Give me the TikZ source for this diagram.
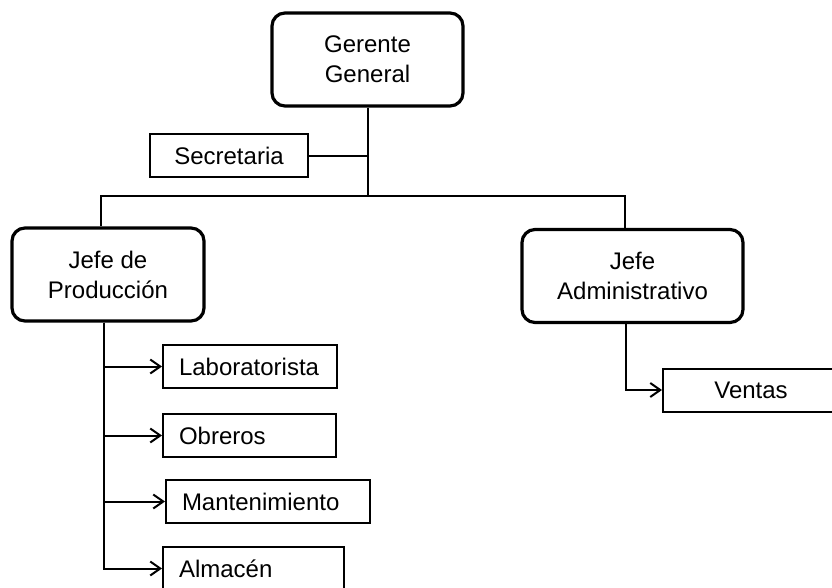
\documentclass[tikz,border=0pt]{standalone}
\usepackage{fontspec}
\setmainfont{Liberation Sans}
\usepackage{tikz}
\usetikzlibrary{arrows.meta}
\tikzset{
  jefe/.style={draw,rounded corners=13pt,line width=3.2pt,align=center,minimum width=#1,minimum height=93pt},
  cargo/.style={draw,line width=2pt,minimum width=#1,minimum height=43pt},
  cargoizq/.style={draw,line width=2pt,minimum height=43pt,inner xsep=16pt,text width=#1,align=left},
  linea/.style={line width=2pt},
}

\begin{document}
\begin{tikzpicture}[x=1pt,y=-1pt,font=\fontsize{24}{30}\selectfont,>={Straight Barb[length=10pt,width=14pt]}]
  \useasboundingbox (0,0) rectangle (832,588);
  \clip (0,0) rectangle (832,588);

  \node[jefe=191pt] at (367.5,59.5) (gg) {Gerente\\General};
  \node[cargo=158pt] at (229,156) (sec) {Secretaria};
  \node[jefe=192pt] at (108,274.5) (jp) {Jefe de\\Producción};
  \node[jefe=221pt] at (632.5,276) (ja) {Jefe\\Administrativo};

  \node[cargoizq=142pt] at (250,366.5) (lab) {Laboratorista};
  \node[cargoizq=141pt] at (249.5,435.5) (obr) {Obreros};
  \node[cargoizq=172pt] at (268,501.5) (man) {Mantenimiento};
  \node[cargoizq=149pt] at (253.5,568.5) (alm) {Almacén};
  \node[cargo=176pt] at (751,390) (ven) {Ventas};

  % gerencia
  \coordinate (bus) at ([yshift=-88pt]gg.south);
  \draw[linea] (gg.south) -- (bus);
  \draw[linea] (sec.east) -- (sec.east -| bus);
  \draw[linea] ([xshift=-7pt]jp.north) |- (bus) -| ([xshift=-7.5pt]ja.north);

  % produccion
  \draw[linea,->] ([xshift=-4.5pt]jp.south) |- (lab.west);
  \draw[linea,->] ([xshift=-4.5pt]jp.south) |- (obr.west);
  \draw[linea,->] ([xshift=-4.5pt]jp.south) |- (man.west);
  \draw[linea,->] ([xshift=-4.5pt]jp.south) |- (alm.west);

  % administracion
  \draw[linea,->] ([xshift=-6.5pt]ja.south) |- (ven.west);

\end{tikzpicture}
\end{document}
